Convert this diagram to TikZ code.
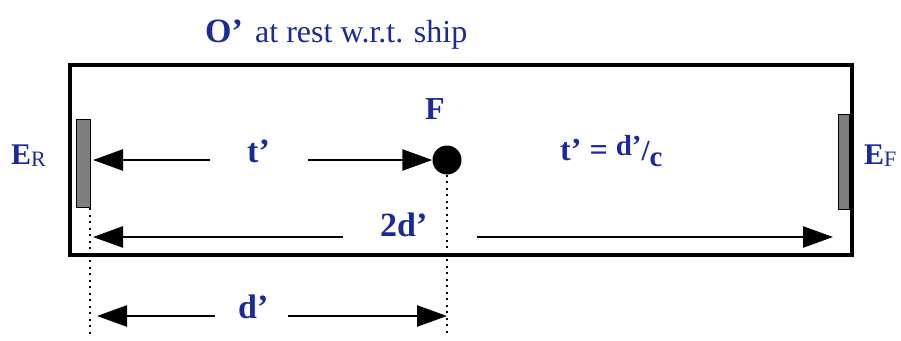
\documentclass[tikz,border=0pt]{standalone}
\usepackage{fontspec}
\setmainfont{Liberation Serif}
\usepackage{tikz}
\usetikzlibrary{positioning, arrows.meta}
\definecolor{ShipBlue}{HTML}{1A2A9A}
\definecolor{MirrorGrey}{HTML}{7E7E7E}

\begin{document}
\begin{tikzpicture}[
  x=1pt, y=-1pt,
  font=\fontsize{32}{34}\selectfont,
  lbl/.style={text=ShipBlue, font=\fontsize{34}{36}\selectfont\bfseries, inner sep=0pt, anchor=base west},
  mirror/.style={draw, line width=1pt, fill=MirrorGrey, inner sep=0pt},
  dot/.style={circle, fill=black, minimum size=29pt, inner sep=0pt},
  arr/.style={-{Triangle[length=30pt, width=21pt]}, line width=2.5pt},
  guide/.style={line width=2pt, dash pattern=on 2pt off 4.5pt}
]
\useasboundingbox (0,0) rectangle (901,340);
% ship, mirrors and flash
\node[draw, line width=4pt, minimum width=782pt, minimum height=190pt, inner sep=0pt] (ship) at (461,160) {};
\node[mirror, minimum width=14pt, minimum height=88pt] (mR) at (83.5,163.5) {};
\node[mirror, minimum width=11pt, minimum height=95pt] (mF) at (844,162) {};
\node[dot] (fdot) at (447,160) {};
% labels
\node[lbl] (oprime) at (205,42) {O’};
\node[lbl, font=\fontsize{32}{34}\selectfont] (rest) at (255,42) {at rest w.r.t. ship};
\node[lbl, font=\fontsize{30}{32}\selectfont\bfseries] (eR) at (11,164) {E\raisebox{-2pt}{\fontsize{22}{22}\selectfont\mdseries R}};
\node[lbl, font=\fontsize{30}{32}\selectfont\bfseries] (eF) at (864,164) {E\raisebox{-2pt}{\fontsize{22}{22}\selectfont\mdseries F}};
\node[lbl, font=\fontsize{32}{34}\selectfont\bfseries] (flbl) at (425,119) {F};
\node[lbl] (tlbl) at (247,162) {t’};
\node[lbl, font=\fontsize{32}{34}\selectfont\bfseries] (eq) at (560,160) {t’ = {\fontsize{29}{30}\selectfont\raisebox{5pt}{d’}/\raisebox{-6pt}{c}}};
\node[lbl] (twod) at (380,236) {2d’};
\node[lbl] (dlbl) at (238,318) {d’};
% arrow ends
\coordinate (tA) at (210,160);
\coordinate (tB) at (308,160);
\coordinate (wA) at (343,237);
\coordinate (wB) at (477,237);
\coordinate (dA) at (215,316);
\coordinate (dB) at (288,316);
\coordinate (gR) at (90,335);
\coordinate (gF) at (447,335);
% guides
\draw[guide] (mR.south -| gR) -- (gR);
\draw[guide] (fdot.south) -- (gF);
% arrows
\draw[arr] (tA) -- ([xshift=2pt]tA -| mR.east);
\draw[arr] (tB) -- (fdot.west);
\draw[arr] (wA) -- ([xshift=2pt]wA -| mR.east);
\draw[arr] (wB) -- ([xshift=-5pt]wB -| mF.west);
\draw[arr] (dA) -- ([xshift=7pt]dA -| gR);
\draw[arr] (dB) -- (dB -| gF);
\end{tikzpicture}
\end{document}
